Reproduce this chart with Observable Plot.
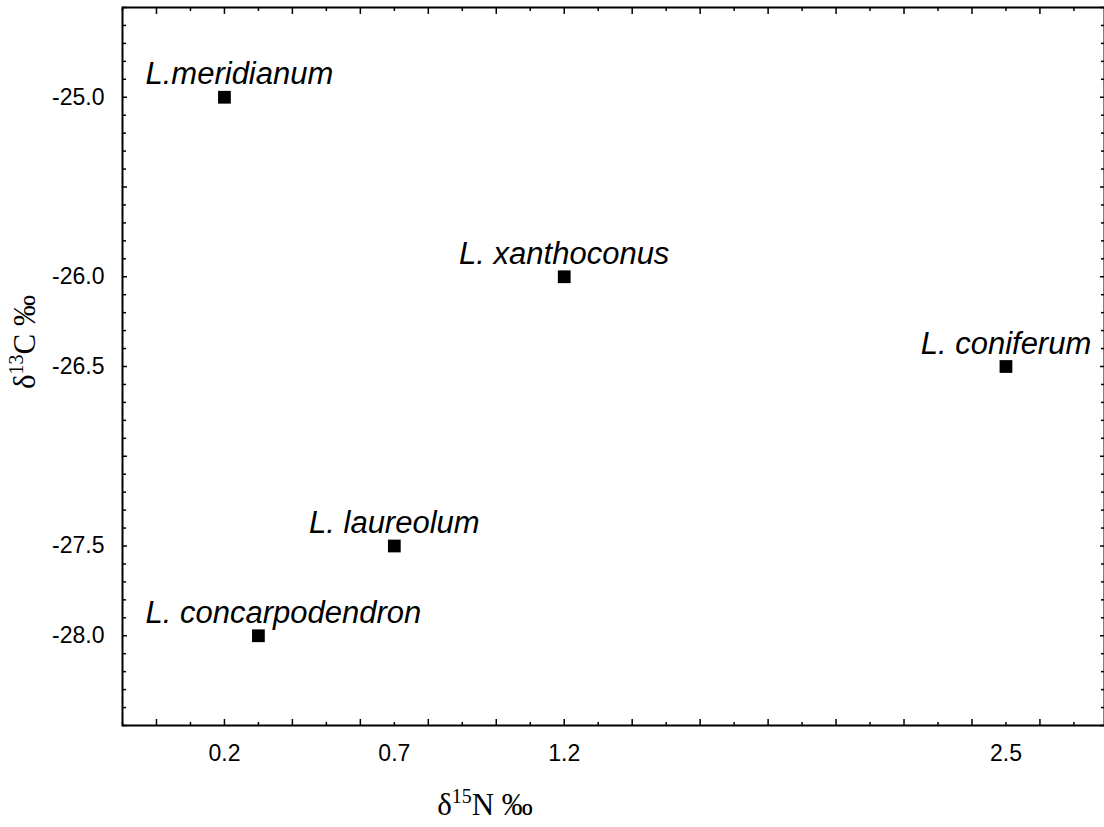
<!DOCTYPE html>
<html>
<head>
<meta charset="utf-8">
<script src="https://cdn.jsdelivr.net/npm/d3@7"></script>
<script src="https://cdn.jsdelivr.net/npm/@observablehq/plot@0.6"></script>
<style>
  body { margin: 0; background: #fff; overflow: hidden; }
  svg { display: block; }
</style>
</head>
<body>
<div id="chart"></div>
<script>
// ---- data ----
const species = ["L.meridianum", "L. xanthoconus", "L. coniferum", "L. laureolum", "L. concarpodendron"];
const d15N = [0.2, 1.2, 2.5, 0.7, 0.3];
const d13C = [-25.0, -26.0, -26.5, -27.5, -28.0];
const xTickLabels = [0.2, 0.7, 1.2, 2.5];
const yTickLabels = [-25.0, -26.0, -26.5, -27.5, -28.0];

// ---- layout ----
const W = 1104, H = 827;
const marginLeft = 122, marginRight = 0, marginTop = 7, marginBottom = 102;
const xDomain = [-0.1, 2.79];
const yDomain = [-28.5, -24.5];
const labelFont = "italic 31px 'Liberation Sans'";

const rows = species.map((s, i) => ({name: s, x: d15N[i], y: d13C[i]}));

// minor ticks every 0.1
const xTicksMajor = d3.range(0, 28, 2).map(d => +(d / 10).toFixed(1));
const xTicksMinor = d3.range(-1, 28, 2).map(d => +(d / 10).toFixed(1));
const yTicksAll = d3.range(-285, -244, 1).map(d => +(d / 10).toFixed(1));
const yTicksMajor = yTicksAll.filter(d => Math.abs(d * 2 - Math.round(d * 2)) < 1e-6);
const yTicksMinor = yTicksAll.filter(d => !yTicksMajor.includes(d));

// keep labels inside frame: measure their width
const ctx = document.createElement("canvas").getContext("2d");
ctx.font = labelFont;
const xs = d3.scaleLinear(xDomain, [marginLeft, W - marginRight]);
const fitsCentered = r => xs(r.x) - ctx.measureText(r.name).width / 2 > marginLeft + 23;

const tickStyle = {strokeWidth: 1.5, label: null, tickFormat: () => ""};

const chart = Plot.plot({
  width: W, height: H,
  marginLeft, marginRight, marginTop, marginBottom,
  style: {fontFamily: "'Liberation Sans', Arial, sans-serif", color: "black", background: "white"},
  x: {domain: xDomain},
  y: {domain: yDomain},
  marks: [
    Plot.frame({stroke: "black", strokeWidth: 2}),
    // inward ticks
    Plot.axisX(xTicksMajor, {anchor: "bottom", tickSize: -6, ...tickStyle}),
    Plot.axisX(xTicksMinor, {anchor: "bottom", tickSize: -3, ...tickStyle}),
    Plot.axisX(xTicksMajor, {anchor: "top", tickSize: -6, ...tickStyle}),
    Plot.axisX(xTicksMinor, {anchor: "top", tickSize: -3, ...tickStyle}),
    Plot.axisY(yTicksMajor, {anchor: "left", tickSize: -5, ...tickStyle}),
    Plot.axisY(yTicksMinor, {anchor: "left", tickSize: -4, ...tickStyle}),
    Plot.axisY(yTicksMajor, {anchor: "right", tickSize: -5, ...tickStyle}),
    Plot.axisY(yTicksMinor, {anchor: "right", tickSize: -4, ...tickStyle}),
    // tick labels
    Plot.axisX(xTickLabels, {anchor: "bottom", tickSize: 0, tickPadding: 19, fontSize: 23, label: null, tickFormat: d => d.toFixed(1)}),
    Plot.axisY(yTickLabels, {anchor: "left", tickSize: 0, tickPadding: 18, fontSize: 23, label: null, tickFormat: d => d.toFixed(1)}),
    // points
    Plot.dot(rows, {x: "x", y: "y", symbol: "square", r: 7.2, fill: "black", stroke: null}),
    // labels
    Plot.text(rows.filter(fitsCentered), {x: "x", y: "y", text: "name", textAnchor: "middle", lineAnchor: "bottom", dy: -13,
      fontSize: 31, fontStyle: "italic", fill: "black"}),
    Plot.text(rows.filter(r => !fitsCentered(r)), {x: () => xDomain[0], y: "y", text: "name", textAnchor: "start", lineAnchor: "bottom", dx: 23, dy: -13,
      fontSize: 31, fontStyle: "italic", fill: "black"})
  ]
});

document.getElementById("chart").appendChild(chart);

// axis titles with superscripts
const svg = d3.select(chart);
const serif = "'Liberation Serif', 'Times New Roman', serif";
svg.append("text")
  .attr("x", 485).attr("y", 815)
  .attr("text-anchor", "middle")
  .attr("font-family", serif).attr("font-size", 31).attr("fill", "black")
  .call(t => {
    t.append("tspan").text("δ");
    t.append("tspan").attr("font-size", 20).attr("dy", -12).text("15");
    t.append("tspan").attr("dy", 12).text("N ‰");
  });
svg.append("text")
  .attr("transform", "translate(35,342) rotate(-90)")
  .attr("text-anchor", "middle")
  .attr("font-family", serif).attr("font-size", 31).attr("fill", "black")
  .call(t => {
    t.append("tspan").text("δ");
    t.append("tspan").attr("font-size", 20).attr("dy", -12).text("13");
    t.append("tspan").attr("dy", 12).text("C ‰");
  });
</script>
</body>
</html>
